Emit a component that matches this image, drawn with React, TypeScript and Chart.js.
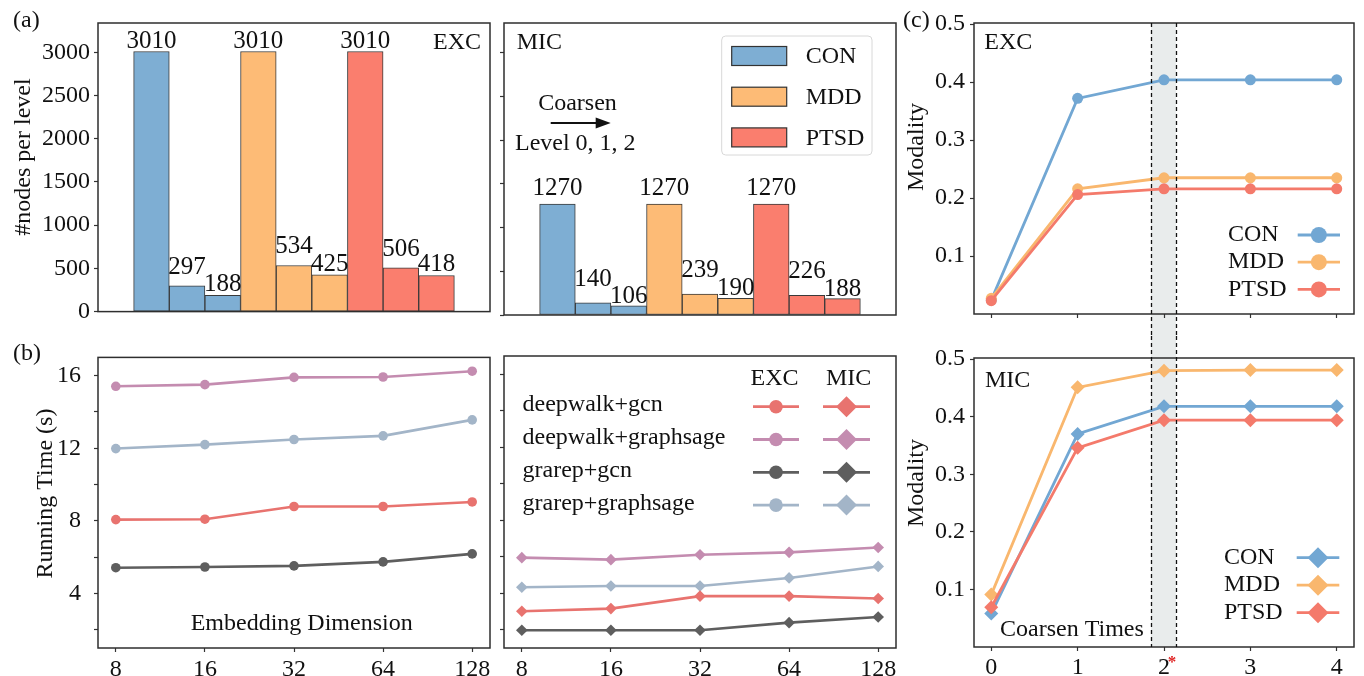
import React, { useEffect, useRef } from 'react';
import { Chart, registerables } from 'chart.js';

Chart.register(...registerables);

const SERIF = "'Liberation Serif', 'Times New Roman', Times, serif";
Chart.defaults.font.family = SERIF;
Chart.defaults.font.size = 24;
Chart.defaults.color = '#111';

// ---------- (a) nodes per coarsening level ----------
const groups = ['CON', 'MDD', 'PTSD'];
const levelsPerGroup = 3;
const excCON = [3010, 297, 188];
const excMDD = [3010, 534, 425];
const excPTSD = [3010, 506, 418];
const micCON = [1270, 140, 106];
const micMDD = [1270, 239, 190];
const micPTSD = [1270, 226, 188];
const nodeTicks = [0, 500, 1000, 1500, 2000, 2500, 3000];

// ---------- (b) running time ----------
const dims = ['8', '16', '32', '64', '128'];
const methods = ['deepwalk+gcn', 'deepwalk+graphsage', 'grarep+gcn', 'grarep+graphsage'];
const excDeepwalkGcn = [8.07, 8.09, 8.79, 8.79, 9.04];
const excDeepwalkSage = [15.41, 15.5, 15.9, 15.92, 16.24];
const excGrarepGcn = [5.42, 5.46, 5.52, 5.74, 6.18];
const excGrarepSage = [11.98, 12.2, 12.48, 12.68, 13.56];
const micDeepwalkGcn = [3.01, 3.16, 3.84, 3.84, 3.71];
const micDeepwalkSage = [5.95, 5.84, 6.11, 6.24, 6.51];
const micGrarepGcn = [1.97, 1.97, 1.97, 2.39, 2.7];
const micGrarepSage = [4.33, 4.4, 4.4, 4.84, 5.47];
const timeTicks = [2, 4, 6, 8, 10, 12, 14, 16];
const timeLabelled = [4, 8, 12, 16];
const regions = ['EXC', 'MIC'];

// ---------- (c) modality ----------
const coarsenTimes = ['0', '1', '2', '3', '4'];
const modExcCON = [0.024, 0.372, 0.404, 0.404, 0.404];
const modExcMDD = [0.027, 0.216, 0.235, 0.235, 0.235];
const modExcPTSD = [0.023, 0.206, 0.216, 0.216, 0.216];
const modMicCON = [0.058, 0.37, 0.418, 0.418, 0.418];
const modMicMDD = [0.091, 0.451, 0.48, 0.481, 0.481];
const modMicPTSD = [0.069, 0.346, 0.394, 0.394, 0.394];
const modalityTicks = [0.1, 0.2, 0.3, 0.4, 0.5];
const chosenTime = 2;

// ---------- styles ----------
const groupBarColors = ['#7EAED3', '#FDBB76', '#FA7E6E'];
const groupLineColors = ['#72A7D3', '#F9B76E', '#F47A6B'];
const methodColors = ['#E8736F', '#C48CB0', '#5E5E5E', '#A3B5C8'];
const INK = '#111';
const FRAME = '#2e2e2e';

type TextItem = {
  t: string; x: number; y: number; size?: number; align?: CanvasTextAlign;
  base?: CanvasTextBaseline; rot?: number; color?: string; bold?: boolean;
};

function drawText(ctx: CanvasRenderingContext2D, it: TextItem) {
  ctx.save();
  ctx.font = `${it.bold ? 'bold ' : ''}${it.size || 24}px ${SERIF}`;
  ctx.fillStyle = it.color || INK;
  ctx.textAlign = it.align || 'left';
  ctx.textBaseline = it.base || 'middle';
  ctx.translate(it.x, it.y);
  if (it.rot) ctx.rotate(it.rot);
  ctx.fillText(it.t, 0, 0);
  ctx.restore();
}

function diamond(ctx: CanvasRenderingContext2D, x: number, y: number, r: number) {
  ctx.beginPath();
  ctx.moveTo(x, y - r);
  ctx.lineTo(x + r, y);
  ctx.lineTo(x, y + r);
  ctx.lineTo(x - r, y);
  ctx.closePath();
  ctx.fill();
}

function circle(ctx: CanvasRenderingContext2D, x: number, y: number, r: number) {
  ctx.beginPath();
  ctx.arc(x, y, r, 0, Math.PI * 2);
  ctx.fill();
}

function makeDeco(cfg: any) {
  return {
    id: 'deco',
    beforeDraw(chart: any) {
      const { ctx, chartArea: a } = chart;
      if (cfg.band) {
        const xs = chart.scales.x;
        const x0 = xs.getPixelForValue(cfg.band.from);
        const x1 = xs.getPixelForValue(cfg.band.to);
        const y0 = cfg.band.top === 'area' ? a.top : 0;
        const y1 = cfg.band.bottom === 'area' ? a.bottom : chart.height;
        ctx.save();
        ctx.fillStyle = '#e9ecec';
        ctx.fillRect(x0, y0, x1 - x0, y1 - y0);
        ctx.restore();
      }
    },
    afterDraw(chart: any) {
      const { ctx, chartArea: a } = chart;
      // frame
      ctx.save();
      ctx.strokeStyle = FRAME;
      ctx.lineWidth = 1.5;
      ctx.strokeRect(a.left, a.top, a.right - a.left, a.bottom - a.top);
      ctx.restore();
      // band edges
      if (cfg.band) {
        const xs = chart.scales.x;
        const y0 = cfg.band.top === 'area' ? a.top : 0;
        const y1 = cfg.band.bottom === 'area' ? a.bottom : chart.height;
        ctx.save();
        ctx.strokeStyle = '#111';
        ctx.lineWidth = 1.3;
        ctx.setLineDash([4, 3]);
        [cfg.band.from, cfg.band.to].forEach((v: number) => {
          const x = Math.round(xs.getPixelForValue(v)) + 0.5;
          ctx.beginPath();
          ctx.moveTo(x, y0);
          ctx.lineTo(x, y1);
          ctx.stroke();
        });
        ctx.restore();
      }
      // bar value labels
      if (cfg.barGaps) {
        chart.data.datasets.forEach((ds: any, di: number) => {
          const meta = chart.getDatasetMeta(di);
          meta.data.forEach((el: any, j: number) => {
            drawText(ctx, { t: String(ds.data[j].y), x: el.x, y: el.y - cfg.barGaps[j], align: 'center', base: 'alphabetic', size: 25 });
          });
        });
      }
      // arrow
      if (cfg.arrow) {
        const A = cfg.arrow;
        ctx.save();
        ctx.strokeStyle = '#111';
        ctx.fillStyle = '#111';
        ctx.lineWidth = 2;
        ctx.beginPath();
        ctx.moveTo(A.x0, A.y);
        ctx.lineTo(A.x1 - 10, A.y);
        ctx.stroke();
        ctx.beginPath();
        ctx.moveTo(A.x1, A.y);
        ctx.lineTo(A.x1 - 15, A.y - 5.5);
        ctx.lineTo(A.x1 - 15, A.y + 5.5);
        ctx.closePath();
        ctx.fill();
        ctx.restore();
      }
      // patch legend
      if (cfg.patchLegend) {
        const L = cfg.patchLegend;
        ctx.save();
        ctx.fillStyle = 'rgba(255,255,255,0.85)';
        ctx.strokeStyle = '#d8d8d8';
        ctx.lineWidth = 1;
        ctx.beginPath();
        if ((ctx as any).roundRect) (ctx as any).roundRect(L.x, L.y, L.w, L.h, 4);
        else ctx.rect(L.x, L.y, L.w, L.h);
        ctx.fill();
        ctx.stroke();
        chart.data.datasets.forEach((ds: any, i: number) => {
          const y = L.row0 + i * L.step;
          ctx.fillStyle = ds.backgroundColor;
          ctx.fillRect(L.px, y - L.ph / 2, L.pw, L.ph);
          ctx.strokeStyle = '#333';
          ctx.lineWidth = 1.2;
          ctx.strokeRect(L.px, y - L.ph / 2, L.pw, L.ph);
          drawText(ctx, { t: ds.label, x: L.tx, y: y + 1 });
        });
        ctx.restore();
      }
      // method legend (two columns: EXC circle, MIC diamond)
      if (cfg.methodLegend) {
        const L = cfg.methodLegend;
        drawText(ctx, { t: regions[0], x: L.h1, y: L.hy, align: 'center' });
        drawText(ctx, { t: regions[1], x: L.h2, y: L.hy, align: 'center' });
        chart.data.datasets.forEach((ds: any, i: number) => {
          const y = L.row0 + i * L.step;
          drawText(ctx, { t: ds.label, x: L.tx, y: y - 1.7 });
          ctx.save();
          ctx.strokeStyle = ds.borderColor;
          ctx.fillStyle = ds.borderColor;
          ctx.lineWidth = 2.8;
          ctx.beginPath();
          ctx.moveTo(L.c1[0], y); ctx.lineTo(L.c1[1], y);
          ctx.moveTo(L.c2[0], y); ctx.lineTo(L.c2[1], y);
          ctx.stroke();
          circle(ctx, (L.c1[0] + L.c1[1]) / 2, y, 6.8);
          diamond(ctx, (L.c2[0] + L.c2[1]) / 2, y, 10.5);
          ctx.restore();
        });
      }
      // group line legend
      if (cfg.lineLegend) {
        const L = cfg.lineLegend;
        chart.data.datasets.forEach((ds: any, i: number) => {
          const y = L.row0 + i * L.step;
          drawText(ctx, { t: ds.label, x: L.tx, y });
          ctx.save();
          ctx.strokeStyle = ds.borderColor;
          ctx.fillStyle = ds.borderColor;
          ctx.lineWidth = 2.8;
          ctx.beginPath();
          ctx.moveTo(L.l0, y); ctx.lineTo(L.l1, y);
          ctx.stroke();
          const mx = (L.l0 + L.l1) / 2;
          if (L.marker === 'diamond') diamond(ctx, mx, y, 10.5);
          else circle(ctx, mx, y, 8);
          ctx.restore();
        });
      }
      (cfg.texts || []).forEach((it: TextItem) => drawText(ctx, it));
    },
  };
}

const setTicks = (vals: number[]) => (s: any) => { s.ticks = vals.map((v) => ({ value: v })); };
const fixWidth = (w: number) => (s: any) => { s.width = w; };
const fixHeight = (h: number) => (s: any) => { s.height = h; };
const tickGrid = {
  display: true, drawOnChartArea: false, drawTicks: true, tickLength: 4,
  tickColor: '#333', tickWidth: 1.2, color: '#333',
};
const baseOpts = {
  responsive: false, animation: false as const, devicePixelRatio: 1,
  plugins: { legend: { display: false }, tooltip: { enabled: false } },
  events: [] as any[],
};

function barConfig(region: string) {
  const isExc = region === 'EXC';
  const series = isExc ? [excCON, excMDD, excPTSD] : [micCON, micMDD, micPTSD];
  const positions = Array.from({ length: groups.length * levelsPerGroup }, (_, i) => i);
  return {
    type: 'bar',
    data: {
      datasets: groups.map((g, gi) => ({
        label: g,
        data: series[gi].map((v, j) => ({ x: gi * levelsPerGroup + j, y: v })),
        backgroundColor: groupBarColors[gi],
        borderColor: '#3a3a3a', borderWidth: 1, borderSkipped: false,
        grouped: false, barPercentage: 1, categoryPercentage: 1,
      })),
    },
    options: {
      ...baseOpts,
      layout: { padding: { left: 0, right: isExc ? 10 : 18, top: 23, bottom: 15 } },
      scales: {
        x: { type: 'linear', display: false, min: -1.5, max: 9.5, offset: false, afterBuildTicks: setTicks(positions) },
        y: {
          min: 0, max: 3340, afterBuildTicks: setTicks(nodeTicks), afterFit: fixWidth(isExc ? 98 : 10),
          grid: tickGrid, border: { display: false },
          ticks: { display: isExc, padding: 4, color: INK, callback: (v: number) => String(v) },
        },
      },
    },
    plugins: [makeDeco(isExc ? {
      barGaps: [4, 12, 4],
      texts: [
        { t: '(a)', x: 13, y: 21 },
        { t: 'EXC', x: 433, y: 42.5 },
        { t: '#nodes per level', x: 24, y: 157, rot: -Math.PI / 2, align: 'center' },
      ],
    } : {
      barGaps: [9, 17, 3],
      arrow: { x0: 56.7, x1: 116.7, y: 123 },
      patchLegend: { x: 227.7, y: 36, w: 150.3, h: 119, row0: 56, step: 40.7, px: 237.7, pw: 55, ph: 19, tx: 311.7 },
      texts: [
        { t: 'MIC', x: 22.7, y: 42.7 },
        { t: 'Coarsen', x: 83.5, y: 103.5, align: 'center' },
        { t: 'Level 0, 1, 2', x: 81.3, y: 143.5, align: 'center' },
      ],
    })],
  };
}

function timeConfig(region: string) {
  const isExc = region === 'EXC';
  const series = isExc
    ? [excDeepwalkGcn, excDeepwalkSage, excGrarepGcn, excGrarepSage]
    : [micDeepwalkGcn, micDeepwalkSage, micGrarepGcn, micGrarepSage];
  return {
    type: 'line',
    data: {
      datasets: methods.map((m, i) => ({
        label: m,
        data: series[i].map((v, j) => ({ x: j, y: v })),
        borderColor: methodColors[i], backgroundColor: methodColors[i], borderWidth: 2.6,
        pointStyle: isExc ? 'circle' : 'rectRot', pointRadius: isExc ? 4.8 : 5.8,
        pointBorderWidth: 0, pointBackgroundColor: methodColors[i], tension: 0,
      })),
    },
    options: {
      ...baseOpts,
      layout: { padding: { left: 0, right: isExc ? 30 : 24, top: 26, bottom: 0 } },
      scales: {
        x: {
          type: 'linear', min: -0.2, max: 4.2, afterBuildTicks: setTicks(dims.map((_, i) => i)),
          afterFit: fixHeight(28), grid: tickGrid, border: { display: false },
          ticks: { padding: 3, autoSkip: false, maxRotation: 0, color: INK, callback: (v: number) => dims[Math.round(v)] },
        },
        y: {
          min: 1, max: 17, afterBuildTicks: setTicks(timeTicks), afterFit: fixWidth(isExc ? 98 : 10),
          grid: tickGrid, border: { display: false },
          ticks: { display: isExc, padding: 13, color: INK, callback: (v: number) => (timeLabelled.includes(v) ? String(v) : '') },
        },
      },
    },
    plugins: [makeDeco(isExc ? {
      texts: [
        { t: '(b)', x: 13, y: 23.3 },
        { t: 'Running Time (s)', x: 46, y: 163.5, rot: -Math.PI / 2, align: 'center' },
        { t: 'Embedding Dimension', x: 301.7, y: 293.5, align: 'center' },
      ],
    } : {
      methodLegend: { h1: 280.5, h2: 354.7, hy: 48.5, row0: 76.7, step: 32.8, tx: 28.5, c1: [259, 305], c2: [329, 376] },
      texts: [],
    })],
  };
}

function modalityConfig(region: string) {
  const isExc = region === 'EXC';
  const series = isExc ? [modExcCON, modExcMDD, modExcPTSD] : [modMicCON, modMicMDD, modMicPTSD];
  return {
    type: 'line',
    data: {
      datasets: groups.map((g, i) => ({
        label: g,
        data: series[i].map((v, j) => ({ x: j, y: v })),
        borderColor: groupLineColors[i], backgroundColor: groupLineColors[i], borderWidth: 2.8,
        pointStyle: isExc ? 'circle' : 'rectRot', pointRadius: isExc ? 5.5 : 7,
        pointBorderWidth: 0, pointBackgroundColor: groupLineColors[i], tension: 0, order: 3 - i,
      })),
    },
    options: {
      ...baseOpts,
      layout: { padding: { left: 0, right: 10, top: isExc ? 23 : 22, bottom: 0 } },
      scales: {
        x: {
          type: 'linear', min: -0.2, max: 4.2, afterBuildTicks: setTicks(coarsenTimes.map((_, i) => i)),
          afterFit: fixHeight(isExc ? 22 : 29), grid: tickGrid, border: { display: false },
          ticks: { display: !isExc, padding: 2, autoSkip: false, maxRotation: 0, color: INK, callback: (v: number) => coarsenTimes[Math.round(v)] },
        },
        y: {
          min: 0, max: 0.502, afterBuildTicks: setTicks(modalityTicks), afterFit: fixWidth(74),
          grid: tickGrid, border: { display: false },
          ticks: { padding: 5, color: INK, callback: (v: number) => v.toFixed(1) },
        },
      },
    },
    plugins: [makeDeco(isExc ? {
      band: { from: chosenTime - 0.15, to: chosenTime + 0.14, top: 'area', bottom: 'canvas' },
      lineLegend: { row0: 235, step: 27.2, tx: 328, l0: 397.7, l1: 440, marker: 'circle' },
      texts: [
        { t: '(c)', x: 3, y: 21 },
        { t: 'EXC', x: 84.3, y: 42.5 },
        { t: 'Modality', x: 17, y: 147, rot: -Math.PI / 2, align: 'center' },
      ],
    } : {
      band: { from: chosenTime - 0.15, to: chosenTime + 0.14, top: 'canvas', bottom: 'area' },
      lineLegend: { row0: 221.7, step: 27.5, tx: 324, l0: 396.7, l1: 439.3, marker: 'diamond' },
      texts: [
        { t: 'MIC', x: 85, y: 44.8 },
        { t: 'Coarsen Times', x: 100, y: 294.1 },
        { t: 'Modality', x: 17, y: 147, rot: -Math.PI / 2, align: 'center' },
        { t: '*', x: 272, y: 327, size: 17, bold: true, color: '#e02424', align: 'center' },
      ],
    })],
  };
}

function Panel(props: { left: number; top: number; width: number; height: number; make: () => any }) {
  const ref = useRef<HTMLCanvasElement>(null);
  useEffect(() => {
    const chart = new Chart(ref.current as HTMLCanvasElement, props.make());
    return () => chart.destroy();
  }, []);
  return (
    <canvas
      ref={ref}
      width={props.width}
      height={props.height}
      style={{ position: 'absolute', left: props.left, top: props.top, width: props.width, height: props.height }}
    />
  );
}

export default function App() {
  return (
    <div style={{ position: 'absolute', left: 0, top: 0, width: 1364, height: 676, background: '#fff', overflow: 'hidden' }}>
      <Panel left={0} top={0} width={500} height={330} make={() => barConfig('EXC')} />
      <Panel left={494} top={0} width={420} height={330} make={() => barConfig('MIC')} />
      <Panel left={0} top={330} width={520} height={346} make={() => timeConfig('EXC')} />
      <Panel left={494} top={330} width={426} height={346} make={() => timeConfig('MIC')} />
      <Panel left={900} top={0} width={464} height={336} make={() => modalityConfig('EXC')} />
      <Panel left={900} top={336} width={464} height={340} make={() => modalityConfig('MIC')} />
    </div>
  );
}
